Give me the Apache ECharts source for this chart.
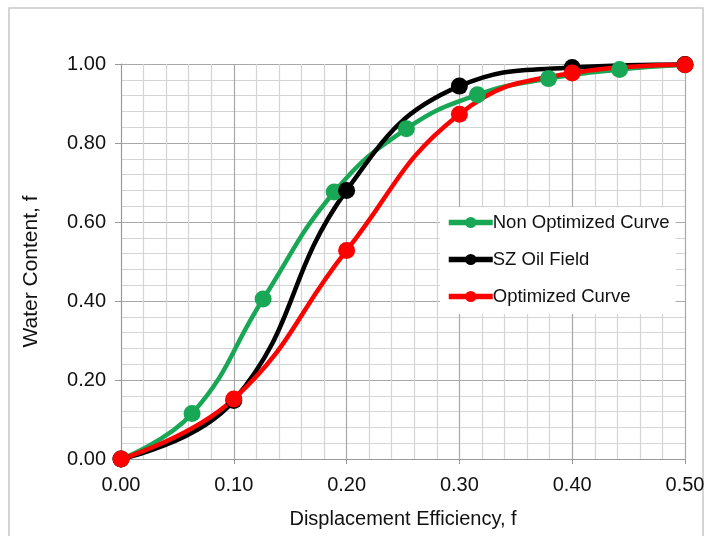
<!DOCTYPE html>
<html>
<head>
<meta charset="utf-8">
<script src="https://cdn.jsdelivr.net/npm/echarts@6/dist/echarts.min.js"></script>
<style>
  html, body { margin: 0; padding: 0; background: #fff; }
  #chart { width: 710px; height: 536px; }
</style>
</head>
<body>
<div id="chart"></div>
<script>
var dom = document.getElementById('chart');
var myChart = echarts.init(dom);

// values
var nonOptX = [0, 0.063, 0.126, 0.189, 0.253, 0.316, 0.379, 0.442, 0.5];
var nonOptY = [0, 0.115, 0.405, 0.676, 0.836, 0.922, 0.963, 0.986, 0.998];

var szX = [0, 0.1, 0.2, 0.3, 0.4, 0.5];
var szY = [0, 0.148, 0.68, 0.944, 0.991, 0.999];

var optX = [0, 0.1, 0.2, 0.3, 0.4, 0.5];
var optY = [0, 0.152, 0.528, 0.873, 0.977, 0.998];

function pairs(xs, ys) {
    return xs.map(function (x, i) { return [x, ys[i]]; });
}

function lineSeries(name, color, xs, ys) {
    return {
        name: name,
        type: 'line',
        smooth: 0.45,
        data: pairs(xs, ys),
        symbol: 'circle',
        symbolSize: 17,
        lineStyle: { color: color, width: 4.5 },
        itemStyle: { color: color },
        emphasis: { disabled: true }
    };
}

var option = {
    backgroundColor: '#fff',
    animation: false,
    textStyle: { fontFamily: 'Liberation Sans, Arial, sans-serif' },
    graphic: [{
        type: 'rect',
        shape: { x: 9, y: 8, width: 694, height: 540 },
        style: { fill: 'none', stroke: '#c8c8c8', lineWidth: 1.5 },
        z: -1
    }],
    grid: { left: 121, right: 25, top: 64, bottom: 77 },
    legend: {
        orient: 'vertical',
        left: 440,
        top: 207,
        itemGap: 18,
        itemWidth: 44,
        itemHeight: 14,
        padding: [6, 6, 8, 6],
        backgroundColor: '#fff',
        lineStyle: { width: 5.5 },
        textStyle: { fontSize: 18.5, color: '#111', padding: [0, 0, 0, -5] },
        data: ['Non Optimized Curve', 'SZ Oil Field', 'Optimized Curve']
    },
    xAxis: {
        type: 'value',
        min: 0,
        max: 0.5,
        interval: 0.1,
        name: 'Displacement Efficiency, f',
        nameLocation: 'middle',
        nameGap: 50,
        nameTextStyle: { fontSize: 20, color: '#111' },
        axisLine: { show: true, lineStyle: { color: '#999' } },
        axisTick: { show: true, length: 5, lineStyle: { color: '#999' } },
        axisLabel: {
            fontSize: 20, color: '#111', margin: 16,
            formatter: function (v) { return v.toFixed(2); }
        },
        splitLine: { show: true, lineStyle: { color: '#a8a8a8', width: 1.2 } },
        minorTick: { show: false, splitNumber: 5 },
        minorSplitLine: { show: true, lineStyle: { color: '#d4d4d4', width: 1.2 } }
    },
    yAxis: {
        type: 'value',
        min: 0,
        max: 1,
        interval: 0.2,
        name: 'Water Content, f',
        nameLocation: 'middle',
        nameGap: 79,
        nameTextStyle: { fontSize: 21, color: '#111', padding: [0, 20, 0, 0] },
        axisLine: { show: true, lineStyle: { color: '#999' } },
        axisTick: { show: true, length: 6, lineStyle: { color: '#999' } },
        axisLabel: {
            fontSize: 20, color: '#111', margin: 15,
            formatter: function (v) { return v.toFixed(2); }
        },
        splitLine: { show: true, lineStyle: { color: '#a8a8a8', width: 1.2 } },
        minorTick: { show: false, splitNumber: 5 },
        minorSplitLine: { show: true, lineStyle: { color: '#d4d4d4', width: 1.2 } }
    },
    series: [
        lineSeries('Non Optimized Curve', '#17a755', nonOptX, nonOptY),
        lineSeries('SZ Oil Field', '#000000', szX, szY),
        lineSeries('Optimized Curve', '#ff0000', optX, optY)
    ]
};

myChart.setOption(option);
</script>
</body>
</html>
